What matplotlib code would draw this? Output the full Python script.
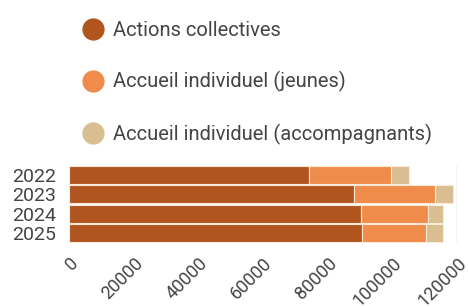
import matplotlib
matplotlib.use("Agg")
import matplotlib.pyplot as plt
from matplotlib.lines import Line2D
import numpy as np

plt.rcParams['font.family'] = ['Roboto', 'DejaVu Sans']

years = ['2022', '2023', '2024', '2025']
series = ['Actions collectives', 'Accueil individuel (jeunes)',
          'Accueil individuel (accompagnants)']
collectives = [74200, 88200, 90300, 90700]
jeunes = [25400, 25000, 20700, 19700]
accompagnants = [5600, 5600, 4700, 5300]
colors = ['#B0551E', '#F08C4B', '#D9BE92']
ticks = [0, 20000, 40000, 60000, 80000, 100000, 120000]

fig = plt.figure(figsize=(4.68, 3.07), dpi=100)
ax = fig.add_axes([0.147, 0.208, 0.830, 0.255])

y = np.arange(len(years))
left = np.zeros(len(years))
for vals, c in zip([collectives, jeunes, accompagnants], colors):
    ax.barh(y, vals, left=left, height=0.92, color=c,
            edgecolor='#FCE9D6', linewidth=0.8)
    left += np.array(vals)

ax.axvline(120000, color='#CCCCCC', linewidth=1, zorder=0)
ax.set_xlim(0, 120000)
ax.set_ylim(len(years) - 0.5, -0.5)
ax.set_yticks(y, years)
ax.set_xticks(ticks, [str(t) for t in ticks])
plt.setp(ax.get_xticklabels(), rotation=45, ha='right', va='top',
         rotation_mode='anchor')
ax.tick_params(axis='both', length=0, colors='#444444')
ax.tick_params(axis='x', pad=8, labelsize=13)
ax.tick_params(axis='y', pad=9, labelsize=14)
for s in ax.spines.values():
    s.set_visible(False)

handles = [Line2D([], [], marker='o', linestyle='', markersize=15,
                  markerfacecolor=c, markeredgecolor=c) for c in colors]
fig.legend(handles, series, loc='upper left', bbox_to_anchor=(0.127, 0.99),
           frameon=False, fontsize=14.5, labelspacing=1.55, handletextpad=0.2,
           handlelength=1.55, labelcolor='#444444')

fig.savefig('out.png', dpi=100)
